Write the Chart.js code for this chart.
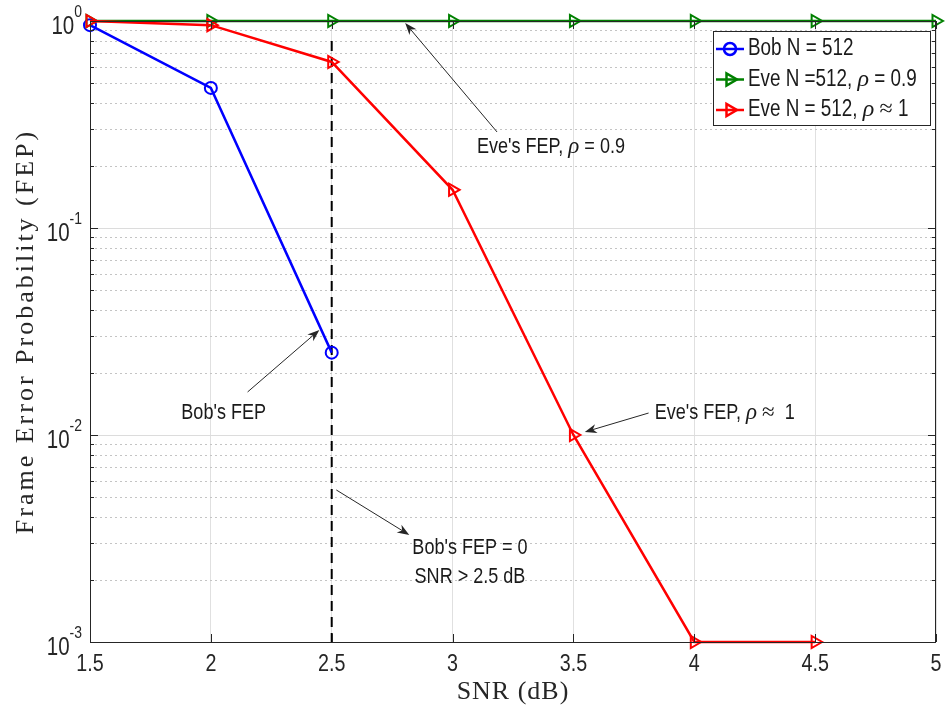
<!DOCTYPE html>
<html>
<head>
<meta charset="utf-8">
<script src="https://cdn.jsdelivr.net/npm/chart.js@4.4.0/dist/chart.umd.min.js"></script>
<style>
  html, body { margin: 0; padding: 0; background: #fff; }
</style>
</head>
<body>
<canvas id="myChart" width="945" height="719"></canvas>
<script>
// values
const snr = [1.5, 2, 2.5, 3, 3.5, 4, 4.5, 5];
const bobFep = [0.955, 0.475, 0.025];                     // SNR 1.5 .. 2.5
const eveFep09 = [1, 1, 1, 1, 1, 1, 1, 1];                // SNR 1.5 .. 5
const eveFep1 = [1, 0.955, 0.634, 0.153, 0.01, 0.001, 0.001]; // SNR 1.5 .. 4.5
const seriesLabels = ["Bob N = 512", "Eve N =512, ρ = 0.9", "Eve N = 512, ρ ≈ 1"];
const seriesColors = ["#0000ff", "#008000", "#ff0000"];
const xTicks = [1.5, 2, 2.5, 3, 3.5, 4, 4.5, 5];
const yDecades = [0.001, 0.01, 0.1, 1];
const cutoffSnr = 2.5;
const cutoffFep = [0.8, 0.001];

// text notes, in data units (x = SNR, y = FEP)
const notes = [
  { lines: ["Eve's FEP, ρ = 0.9"], at: [3.407, 0.246], from: [3.184, 0.291], to: [2.804, 0.978], align: "center" },
  { lines: ["Eve's FEP, ρ ≈  1"], at: [3.836, 0.01277], from: [3.811, 0.01277], to: [3.547, 0.01034], align: "left" },
  { lines: ["Bob's FEP"], at: [2.053, 0.01277], from: [2.152, 0.01614], to: [2.449, 0.03216], align: "center" },
  { lines: ["Bob's FEP = 0", "SNR > 2.5 dB"], at: [3.072, 0.002845], lineGap: 29, from: [2.519, 0.005426], to: [2.821, 0.003289], align: "center" },
];

function toPoints(xs, ys) {
  return ys.map((y, i) => ({ x: xs[i], y: y }));
}

// narrow sans like the figure; squeeze plain Liberation Sans if the narrow cut is missing
let squeeze = 1;
(function () {
  const c = document.createElement("canvas").getContext("2d");
  c.font = '22px "Liberation Sans Narrow", monospace';
  const a = c.measureText("Bob N = 512 abc").width;
  c.font = "22px monospace";
  const b = c.measureText("Bob N = 512 abc").width;
  if (Math.abs(a - b) < 0.5) squeeze = 0.82;
})();
const SANS = squeeze < 1 ? '"Liberation Sans", Arial, sans-serif' : '"Liberation Sans Narrow", sans-serif';

function splitRuns(str) {
  const out = [];
  for (const ch of str) {
    const math = ch === "ρ" || ch === "≈";
    const last = out[out.length - 1];
    if (last && last.math === math) last.t += ch;
    else out.push({ t: ch, math: math });
  }
  return out;
}

function runFont(p, size) {
  if (!p.math) return size + "px " + SANS;
  return (p.t.indexOf("ρ") >= 0 ? "italic " : "") + Math.round(size * 1.05) + 'px "Liberation Serif", serif';
}

function drawText(ctx, str, x, y, size, align) {
  const parts = splitRuns(str);
  let total = 0;
  parts.forEach((p) => {
    ctx.font = runFont(p, size);
    p.w = ctx.measureText(p.t).width * (p.math ? 1 : squeeze);
    total += p.w;
  });
  let cx = align === "center" ? x - total / 2 : align === "right" ? x - total : x;
  ctx.textAlign = "left";
  ctx.textBaseline = "middle";
  parts.forEach((p) => {
    ctx.font = runFont(p, size);
    ctx.save();
    ctx.translate(cx, y);
    if (!p.math) ctx.scale(squeeze, 1);
    ctx.fillText(p.t, 0, 0);
    ctx.restore();
    cx += p.w;
  });
  return total;
}

function drawArrow(ctx, x1, y1, x2, y2) {
  const ang = Math.atan2(y2 - y1, x2 - x1);
  const c = Math.cos(ang), s = Math.sin(ang);
  const L = 12, W = 4.5;
  ctx.beginPath();
  ctx.moveTo(x1, y1);
  ctx.lineTo(x2 - c * L * 0.7, y2 - s * L * 0.7);
  ctx.stroke();
  ctx.beginPath();
  ctx.moveTo(x2, y2);
  ctx.lineTo(x2 - c * L + s * W, y2 - s * L - c * W);
  ctx.lineTo(x2 - c * L * 0.7, y2 - s * L * 0.7);
  ctx.lineTo(x2 - c * L - s * W, y2 - s * L + c * W);
  ctx.closePath();
  ctx.fill();
}

const markerOpts = [
  { pointStyle: "circle", radius: 6, rotation: 0 },
  { pointStyle: "triangle", radius: 7, rotation: 90 },
  { pointStyle: "triangle", radius: 7, rotation: 90 },
];

// dotted minor grid for the log axis (2..9 in each decade)
const minorGridPlugin = {
  id: "minorGrid",
  beforeDatasetsDraw(chart) {
    const { ctx, chartArea: a, scales } = chart;
    const ym = scales.yMinor;
    ctx.save();
    ctx.strokeStyle = "#c4c4c4";
    ctx.lineWidth = 1;
    ctx.setLineDash([2, 3]);
    ctx.beginPath();
    ym.ticks.forEach((t) => {
      const py = Math.round(ym.getPixelForValue(t.value)) + 0.5;
      ctx.moveTo(a.left, py);
      ctx.lineTo(a.right, py);
    });
    ctx.stroke();
    ctx.restore();
  },
};

const decorPlugin = {
  id: "decor",
  afterDraw(chart) {
    const { ctx, chartArea: a, scales } = chart;
    const xs = scales.x, ys = scales.y, ym = scales.yMinor;
    ctx.save();

    // box and inner ticks
    ctx.strokeStyle = "#262626";
    ctx.lineWidth = 1;
    ctx.strokeRect(a.left + 0.5, a.top + 0.5, a.right - a.left - 1, a.bottom - a.top);
    ctx.beginPath();
    xs.ticks.forEach((t) => {
      const px = Math.round(xs.getPixelForValue(t.value)) + 0.5;
      ctx.moveTo(px, a.bottom); ctx.lineTo(px, a.bottom - 8);
      ctx.moveTo(px, a.top); ctx.lineTo(px, a.top + 8);
    });
    ys.ticks.forEach((t) => {
      const py = Math.round(ys.getPixelForValue(t.value)) + 0.5;
      ctx.moveTo(a.left, py); ctx.lineTo(a.left + 8, py);
      ctx.moveTo(a.right, py); ctx.lineTo(a.right - 8, py);
    });
    ym.ticks.forEach((t) => {
      const py = Math.round(ym.getPixelForValue(t.value)) + 0.5;
      ctx.moveTo(a.left, py); ctx.lineTo(a.left + 4, py);
      ctx.moveTo(a.right, py); ctx.lineTo(a.right - 4, py);
    });
    ctx.stroke();

    // tick labels
    ctx.fillStyle = "#262626";
    xs.ticks.forEach((t) => {
      drawText(ctx, String(t.value), xs.getPixelForValue(t.value), a.bottom + 22, 24, "center");
    });
    ys.ticks.forEach((t) => {
      const py = ys.getPixelForValue(t.value);
      const e = String(Math.round(Math.log10(t.value)));
      const ew = drawText(ctx, e, a.left - 8, py - 9, 17, "right");
      drawText(ctx, "10", a.left - 8 - ew, py + 6, 25, "right");
    });

    // axis titles
    ctx.fillStyle = "#262626";
    ctx.textAlign = "center";
    ctx.textBaseline = "middle";
    ctx.font = '26px "Liberation Serif", serif';
    ctx.letterSpacing = "1px";
    ctx.fillText("SNR (dB)", (a.left + a.right) / 2, a.bottom + 50);
    ctx.save();
    ctx.translate(26, (a.top + a.bottom) / 2);
    ctx.rotate(-Math.PI / 2);
    ctx.letterSpacing = "3px";
    ctx.fillText("Frame Error Probability (FEP)", 0, 0);
    ctx.restore();
    ctx.letterSpacing = "0px";

    // notes with arrows
    ctx.strokeStyle = "#262626";
    ctx.fillStyle = "#262626";
    ctx.lineWidth = 1;
    notes.forEach((n) => {
      ctx.fillStyle = "#262626";
      drawArrow(ctx,
        xs.getPixelForValue(n.from[0]), ys.getPixelForValue(n.from[1]),
        xs.getPixelForValue(n.to[0]), ys.getPixelForValue(n.to[1]));
      const tx = xs.getPixelForValue(n.at[0]);
      const ty = ys.getPixelForValue(n.at[1]);
      n.lines.forEach((line, i) => {
        ctx.fillStyle = "#1a1a1a";
        drawText(ctx, line, tx, ty + i * (n.lineGap || 0), 22, n.align);
      });
    });

    // legend box inside the axes
    const lx = 713, ly = 31, lw = 217, lh = 94;
    ctx.fillStyle = "#fff";
    ctx.fillRect(lx, ly, lw, lh);
    ctx.strokeStyle = "#262626";
    ctx.lineWidth = 1;
    ctx.strokeRect(lx + 0.5, ly + 0.5, lw, lh);
    seriesLabels.forEach((label, i) => {
      const cy = ly + 18 + i * 30.5;
      ctx.strokeStyle = seriesColors[i];
      ctx.lineWidth = 2.5;
      ctx.beginPath();
      ctx.moveTo(lx + 3, cy);
      ctx.lineTo(lx + 31, cy);
      ctx.stroke();
      ctx.fillStyle = "rgba(0,0,0,0)";
      Chart.helpers.drawPoint(ctx, Object.assign({ borderWidth: 2 }, markerOpts[i]), lx + 17, cy);
      ctx.fillStyle = "#1a1a1a";
      drawText(ctx, label, lx + 35, cy, 23, "left");
    });
    ctx.restore();
  },
};

function lineSet(label, data, color, marker) {
  return {
    label: label,
    data: data,
    borderColor: color,
    backgroundColor: "rgba(0,0,0,0)",
    borderWidth: 2.5,
    pointStyle: marker.pointStyle,
    pointRadius: marker.radius,
    pointRotation: marker.rotation,
    pointBorderWidth: 2,
    pointBackgroundColor: "rgba(0,0,0,0)",
    pointBorderColor: color,
    tension: 0,
    clip: false,
  };
}

new Chart(document.getElementById("myChart"), {
  type: "line",
  data: {
    datasets: [
      lineSet(seriesLabels[2], toPoints(snr, eveFep1), seriesColors[2], markerOpts[2]),
      lineSet(seriesLabels[1], toPoints(snr, eveFep09), seriesColors[1], markerOpts[1]),
      lineSet(seriesLabels[0], toPoints(snr, bobFep), seriesColors[0], markerOpts[0]),
      {
        label: "cutoff",
        data: cutoffFep.map((y) => ({ x: cutoffSnr, y: y })),
        borderColor: "#000",
        borderWidth: 2,
        borderDash: [10, 6],
        pointRadius: 0,
        clip: false,
      },
    ],
  },
  options: {
    responsive: false,
    animation: false,
    layout: { padding: { top: 21, right: 8, left: 0, bottom: 0 } },
    plugins: { legend: { display: false }, tooltip: { enabled: false } },
    events: [],
    scales: {
      x: {
        type: "linear",
        min: 1.5,
        max: 5,
        afterBuildTicks: (s) => { s.ticks = xTicks.map((v) => ({ value: v })); },
        afterFit: (s) => { s.height = 77; },
        ticks: { display: false },
        grid: { color: "#e0e0e0", lineWidth: 1, drawTicks: false },
        border: { display: false },
      },
      y: {
        type: "logarithmic",
        min: 0.001,
        max: 1,
        afterBuildTicks: (s) => { s.ticks = yDecades.map((v) => ({ value: v })); },
        afterFit: (s) => { s.width = 90; },
        ticks: { display: false },
        grid: { color: "#dcdcdc", lineWidth: 1, drawTicks: false },
        border: { display: false },
      },
      yMinor: {
        type: "logarithmic",
        position: "left",
        min: 0.001,
        max: 1,
        afterBuildTicks: (s) => {
          s.ticks = s.ticks.filter((t) => {
            const m = t.value / Math.pow(10, Math.floor(Math.log10(t.value) + 1e-9));
            const r = Math.round(m);
            return Math.abs(m - r) < 1e-6 && r > 1 && r < 10;
          });
        },
        afterFit: (s) => { s.width = 0; },
        ticks: { display: false },
        grid: { display: false },
        border: { display: false },
      },
    },
  },
  plugins: [minorGridPlugin, decorPlugin],
});
</script>
</body>
</html>
